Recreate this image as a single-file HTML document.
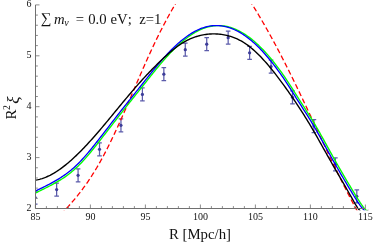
<!DOCTYPE html>
<html><head><meta charset="utf-8"><style>
html,body{margin:0;padding:0;background:#fff;}
svg{display:block;font-family:"Liberation Serif",serif;-webkit-font-smoothing:antialiased;will-change:transform;}
</style></head><body>
<svg width="374" height="246" viewBox="0 0 374 246">
<rect width="374" height="246" fill="#fff"/>
<defs><clipPath id="c"><rect x="35.5" y="4.0" width="332.90" height="206.30"/></clipPath></defs>
<g clip-path="url(#c)">
<path d="M35.20,191.00V204.00M32.90,191.00h4.6M32.90,204.00h4.6" stroke="#5c5cab" stroke-width="1.25" fill="none"/><circle cx="35.20" cy="197.50" r="1.6" fill="#3d3d99"/>
<path d="M56.64,183.10V196.10M54.34,183.10h4.6M54.34,196.10h4.6" stroke="#5c5cab" stroke-width="1.25" fill="none"/><circle cx="56.64" cy="189.60" r="1.6" fill="#3d3d99"/>
<path d="M78.08,168.80V181.80M75.78,168.80h4.6M75.78,181.80h4.6" stroke="#5c5cab" stroke-width="1.25" fill="none"/><circle cx="78.08" cy="175.30" r="1.6" fill="#3d3d99"/>
<path d="M99.52,142.80V155.80M97.22,142.80h4.6M97.22,155.80h4.6" stroke="#5c5cab" stroke-width="1.25" fill="none"/><circle cx="99.52" cy="149.30" r="1.6" fill="#3d3d99"/>
<path d="M120.96,118.80V131.80M118.66,118.80h4.6M118.66,131.80h4.6" stroke="#5c5cab" stroke-width="1.25" fill="none"/><circle cx="120.96" cy="125.30" r="1.6" fill="#3d3d99"/>
<path d="M142.40,87.90V100.90M140.10,87.90h4.6M140.10,100.90h4.6" stroke="#5c5cab" stroke-width="1.25" fill="none"/><circle cx="142.40" cy="94.40" r="1.6" fill="#3d3d99"/>
<path d="M163.84,67.70V80.70M161.54,67.70h4.6M161.54,80.70h4.6" stroke="#5c5cab" stroke-width="1.25" fill="none"/><circle cx="163.84" cy="74.20" r="1.6" fill="#3d3d99"/>
<path d="M185.28,43.20V56.20M182.98,43.20h4.6M182.98,56.20h4.6" stroke="#5c5cab" stroke-width="1.25" fill="none"/><circle cx="185.28" cy="49.70" r="1.6" fill="#3d3d99"/>
<path d="M206.72,37.70V50.70M204.42,37.70h4.6M204.42,50.70h4.6" stroke="#5c5cab" stroke-width="1.25" fill="none"/><circle cx="206.72" cy="44.20" r="1.6" fill="#3d3d99"/>
<path d="M228.16,31.20V44.20M225.86,31.20h4.6M225.86,44.20h4.6" stroke="#5c5cab" stroke-width="1.25" fill="none"/><circle cx="228.16" cy="37.70" r="1.6" fill="#3d3d99"/>
<path d="M249.60,46.30V59.30M247.30,46.30h4.6M247.30,59.30h4.6" stroke="#5c5cab" stroke-width="1.25" fill="none"/><circle cx="249.60" cy="52.80" r="1.6" fill="#3d3d99"/>
<path d="M271.04,60.00V73.00M268.74,60.00h4.6M268.74,73.00h4.6" stroke="#5c5cab" stroke-width="1.25" fill="none"/><circle cx="271.04" cy="66.50" r="1.6" fill="#3d3d99"/>
<path d="M292.48,90.80V103.80M290.18,90.80h4.6M290.18,103.80h4.6" stroke="#5c5cab" stroke-width="1.25" fill="none"/><circle cx="292.48" cy="97.30" r="1.6" fill="#3d3d99"/>
<path d="M313.92,119.50V132.50M311.62,119.50h4.6M311.62,132.50h4.6" stroke="#5c5cab" stroke-width="1.25" fill="none"/><circle cx="313.92" cy="126.00" r="1.6" fill="#3d3d99"/>
<path d="M335.36,157.80V170.80M333.06,157.80h4.6M333.06,170.80h4.6" stroke="#5c5cab" stroke-width="1.25" fill="none"/><circle cx="335.36" cy="164.30" r="1.6" fill="#3d3d99"/>
<path d="M356.80,189.80V202.80M354.50,189.80h4.6M354.50,202.80h4.6" stroke="#5c5cab" stroke-width="1.25" fill="none"/><circle cx="356.80" cy="196.30" r="1.6" fill="#3d3d99"/>

<path d="M177.78,0.00 L177.12,1.08 L176.47,2.16 L175.83,3.24 L175.19,4.32 L174.55,5.40 L173.92,6.48 L173.29,7.56 L172.67,8.64 L172.05,9.72 L171.43,10.80 L170.82,11.88 L170.21,12.96 L169.61,14.05 L169.01,15.13 L168.41,16.21 L167.82,17.29 L167.23,18.37 L166.65,19.45 L166.07,20.53 L165.49,21.61 L164.92,22.69 L164.35,23.77 L163.78,24.85 L163.22,25.93 L162.66,27.01 L162.10,28.09 L161.55,29.17 L161.00,30.25 L160.45,31.33 L159.90,32.41 L159.36,33.49 L158.82,34.57 L158.29,35.65 L157.76,36.73 L157.23,37.81 L156.70,38.89 L156.17,39.97 L155.65,41.06 L155.13,42.14 L154.61,43.22 L154.10,44.30 L153.59,45.38 L153.08,46.46 L152.57,47.54 L152.06,48.62 L151.56,49.70 L151.06,50.78 L150.56,51.86 L150.06,52.94 L149.57,54.02 L149.07,55.10 L148.58,56.18 L148.09,57.26 L147.60,58.34 L147.12,59.42 L146.63,60.50 L146.15,61.58 L145.67,62.66 L145.19,63.74 L144.71,64.82 L144.23,65.90 L143.75,66.98 L143.28,68.07 L142.80,69.15 L142.33,70.23 L141.86,71.31 L141.38,72.39 L140.91,73.47 L140.44,74.55 L139.98,75.63 L139.51,76.71 L139.04,77.79 L138.57,78.87 L138.11,79.95 L137.64,81.03 L137.18,82.11 L136.71,83.19 L136.25,84.27 L135.78,85.35 L135.32,86.43 L134.86,87.51 L134.39,88.59 L133.93,89.67 L133.47,90.75 L133.00,91.83 L132.54,92.91 L132.08,93.99 L131.61,95.08 L131.15,96.16 L130.68,97.24 L130.22,98.32 L129.75,99.40 L129.29,100.48 L128.82,101.56 L128.36,102.64 L127.89,103.72 L127.42,104.80 L126.95,105.88 L126.48,106.96 L126.01,108.04 L125.54,109.12 L125.07,110.20 L124.59,111.28 L124.12,112.36 L123.64,113.44 L123.17,114.52 L122.69,115.60 L122.21,116.68 L121.73,117.76 L121.25,118.84 L120.76,119.92 L120.28,121.01 L119.79,122.09 L119.30,123.17 L118.81,124.25 L118.32,125.33 L117.83,126.41 L117.33,127.49 L116.84,128.57 L116.34,129.65 L115.84,130.73 L115.33,131.81 L114.83,132.89 L114.32,133.97 L113.81,135.05 L113.30,136.13 L112.78,137.21 L112.26,138.29 L111.74,139.37 L111.22,140.45 L110.70,141.53 L110.17,142.61 L109.64,143.69 L109.11,144.77 L108.57,145.85 L108.03,146.93 L107.49,148.02 L106.94,149.10 L106.39,150.18 L105.83,151.26 L105.27,152.34 L104.71,153.42 L104.14,154.50 L103.57,155.58 L102.99,156.66 L102.40,157.74 L101.82,158.82 L101.22,159.90 L100.62,160.98 L100.02,162.06 L99.41,163.14 L98.79,164.22 L98.17,165.30 L97.54,166.38 L96.90,167.46 L96.26,168.54 L95.61,169.62 L94.96,170.70 L94.29,171.78 L93.62,172.86 L92.94,173.94 L92.26,175.03 L91.57,176.11 L90.87,177.19 L90.16,178.27 L89.44,179.35 L88.72,180.43 L87.98,181.51 L87.24,182.59 L86.49,183.67 L85.73,184.75 L84.96,185.83 L84.18,186.91 L83.39,187.99 L82.59,189.07 L81.78,190.15 L80.97,191.23 L80.14,192.31 L79.30,193.39 L78.45,194.47 L77.59,195.55 L76.72,196.63 L75.84,197.71 L74.95,198.79 L74.05,199.87 L73.13,200.95 L72.21,202.04 L71.27,203.12 L70.32,204.20 L69.36,205.28 L68.39,206.36 L67.40,207.44 L66.40,208.52 L65.39,209.60 L64.37,210.68 L63.33,211.76 L62.28,212.84 L61.22,213.92 L60.14,215.00" stroke="#ff0000" stroke-width="1.3" fill="none" stroke-dasharray="5.2 2.8"/>
<path d="M249.45,0.00 L250.13,1.07 L250.80,2.15 L251.47,3.22 L252.13,4.29 L252.79,5.36 L253.46,6.44 L254.11,7.51 L254.77,8.58 L255.42,9.66 L256.07,10.73 L256.71,11.80 L257.36,12.87 L258.00,13.95 L258.64,15.02 L259.27,16.09 L259.91,17.17 L260.54,18.24 L261.17,19.31 L261.79,20.38 L262.42,21.46 L263.04,22.53 L263.66,23.60 L264.27,24.68 L264.89,25.75 L265.50,26.82 L266.11,27.89 L266.71,28.97 L267.32,30.04 L267.92,31.11 L268.52,32.19 L269.12,33.26 L269.71,34.33 L270.31,35.40 L270.90,36.48 L271.49,37.55 L272.07,38.62 L272.66,39.70 L273.24,40.77 L273.82,41.84 L274.40,42.91 L274.98,43.99 L275.56,45.06 L276.13,46.13 L276.70,47.21 L277.27,48.28 L277.84,49.35 L278.41,50.42 L278.97,51.50 L279.53,52.57 L280.09,53.64 L280.65,54.72 L281.21,55.79 L281.77,56.86 L282.32,57.93 L282.87,59.01 L283.42,60.08 L283.97,61.15 L284.52,62.23 L285.07,63.30 L285.61,64.37 L286.16,65.44 L286.70,66.52 L287.24,67.59 L287.78,68.66 L288.32,69.74 L288.86,70.81 L289.39,71.88 L289.93,72.95 L290.46,74.03 L290.99,75.10 L291.52,76.17 L292.05,77.25 L292.58,78.32 L293.11,79.39 L293.63,80.46 L294.16,81.54 L294.68,82.61 L295.21,83.68 L295.73,84.76 L296.25,85.83 L296.77,86.90 L297.29,87.97 L297.81,89.05 L298.32,90.12 L298.84,91.19 L299.36,92.27 L299.87,93.34 L300.39,94.41 L300.90,95.48 L301.41,96.56 L301.92,97.63 L302.44,98.70 L302.95,99.78 L303.46,100.85 L303.97,101.92 L304.47,102.99 L304.98,104.07 L305.49,105.14 L306.00,106.21 L306.51,107.29 L307.01,108.36 L307.52,109.43 L308.02,110.51 L308.53,111.58 L309.03,112.65 L309.54,113.72 L310.04,114.80 L310.55,115.87 L311.05,116.94 L311.56,118.02 L312.06,119.09 L312.56,120.16 L313.07,121.23 L313.57,122.31 L314.07,123.38 L314.58,124.45 L315.08,125.53 L315.58,126.60 L316.08,127.67 L316.59,128.74 L317.09,129.82 L317.59,130.89 L318.10,131.96 L318.60,133.04 L319.10,134.11 L319.61,135.18 L320.11,136.25 L320.61,137.33 L321.12,138.40 L321.62,139.47 L322.13,140.55 L322.63,141.62 L323.14,142.69 L323.65,143.76 L324.15,144.84 L324.66,145.91 L325.17,146.98 L325.67,148.06 L326.18,149.13 L326.69,150.20 L327.20,151.27 L327.71,152.35 L328.22,153.42 L328.73,154.49 L329.24,155.57 L329.76,156.64 L330.27,157.71 L330.78,158.78 L331.30,159.86 L331.82,160.93 L332.33,162.00 L332.85,163.08 L333.37,164.15 L333.89,165.22 L334.41,166.29 L334.93,167.37 L335.45,168.44 L335.97,169.51 L336.50,170.59 L337.02,171.66 L337.55,172.73 L338.07,173.80 L338.60,174.88 L339.13,175.95 L339.66,177.02 L340.19,178.10 L340.72,179.17 L341.26,180.24 L341.79,181.31 L342.33,182.39 L342.87,183.46 L343.41,184.53 L343.95,185.61 L344.49,186.68 L345.03,187.75 L345.58,188.82 L346.12,189.90 L346.67,190.97 L347.22,192.04 L347.77,193.12 L348.32,194.19 L348.88,195.26 L349.43,196.33 L349.99,197.41 L350.55,198.48 L351.11,199.55 L351.67,200.63 L352.24,201.70 L352.80,202.77 L353.37,203.84 L353.94,204.92 L354.51,205.99 L355.08,207.06 L355.66,208.14 L356.24,209.21 L356.81,210.28 L357.40,211.35 L357.98,212.43 L358.56,213.50" stroke="#ff0000" stroke-width="1.3" fill="none" stroke-dasharray="5.2 2.8"/>
<path d="M33.00,194.23 L34.31,193.58 L35.62,192.93 L36.93,192.28 L38.24,191.64 L39.54,190.99 L40.85,190.35 L42.16,189.71 L43.47,189.07 L44.78,188.42 L46.09,187.77 L47.40,187.11 L48.71,186.45 L50.02,185.77 L51.32,185.08 L52.63,184.39 L53.94,183.68 L55.25,182.95 L56.56,182.21 L57.87,181.44 L59.18,180.66 L60.49,179.86 L61.80,179.04 L63.10,178.19 L64.41,177.32 L65.72,176.41 L67.03,175.45 L68.34,174.47 L69.65,173.46 L70.96,172.41 L72.27,171.33 L73.58,170.21 L74.88,169.06 L76.19,167.87 L77.50,166.64 L78.81,165.37 L80.12,164.05 L81.43,162.70 L82.74,161.30 L84.05,159.87 L85.36,158.41 L86.66,156.91 L87.97,155.38 L89.28,153.82 L90.59,152.24 L91.90,150.64 L93.21,149.01 L94.52,147.36 L95.83,145.72 L97.14,144.08 L98.44,142.42 L99.75,140.75 L101.06,139.08 L102.37,137.40 L103.68,135.71 L104.99,134.02 L106.30,132.33 L107.61,130.63 L108.92,128.94 L110.22,127.25 L111.53,125.55 L112.84,123.86 L114.15,122.17 L115.46,120.48 L116.77,118.79 L118.08,117.10 L119.39,115.42 L120.69,113.75 L122.00,112.08 L123.31,110.41 L124.62,108.75 L125.93,107.10 L127.24,105.44 L128.55,103.80 L129.86,102.15 L131.17,100.51 L132.47,98.86 L133.78,97.22 L135.09,95.58 L136.40,93.95 L137.71,92.31 L139.02,90.67 L140.33,89.03 L141.64,87.39 L142.95,85.75 L144.25,84.11 L145.56,82.47 L146.87,80.82 L148.18,79.17 L149.49,77.53 L150.80,75.89 L152.11,74.25 L153.42,72.63 L154.73,71.01 L156.03,69.40 L157.34,67.80 L158.65,66.22 L159.96,64.66 L161.27,63.11 L162.58,61.58 L163.89,60.08 L165.20,58.59 L166.51,57.13 L167.81,55.70 L169.12,54.28 L170.43,52.90 L171.74,51.53 L173.05,50.20 L174.36,48.89 L175.67,47.61 L176.98,46.36 L178.29,45.14 L179.59,43.95 L180.90,42.79 L182.21,41.67 L183.52,40.57 L184.83,39.51 L186.14,38.48 L187.45,37.48 L188.76,36.52 L190.07,35.60 L191.37,34.71 L192.68,33.86 L193.99,33.05 L195.30,32.28 L196.61,31.54 L197.92,30.85 L199.23,30.20 L200.54,29.58 L201.85,29.02 L203.15,28.49 L204.46,28.01 L205.77,27.57 L207.08,27.17 L208.39,26.82 L209.70,26.52 L211.01,26.25 L212.32,26.04 L213.63,25.86 L214.93,25.73 L216.24,25.64 L217.55,25.60 L218.86,25.60 L220.17,25.64 L221.48,25.72 L222.79,25.85 L224.10,26.02 L225.41,26.23 L226.71,26.49 L228.02,26.78 L229.33,27.12 L230.64,27.50 L231.95,27.93 L233.26,28.39 L234.57,28.89 L235.88,29.44 L237.19,30.03 L238.49,30.66 L239.80,31.32 L241.11,32.03 L242.42,32.78 L243.73,33.57 L245.04,34.40 L246.35,35.27 L247.66,36.18 L248.97,37.13 L250.27,38.12 L251.58,39.15 L252.89,40.22 L254.20,41.32 L255.51,42.46 L256.82,43.64 L258.13,44.86 L259.44,46.12 L260.75,47.41 L262.05,48.73 L263.36,50.09 L264.67,51.49 L265.98,52.92 L267.29,54.39 L268.60,55.89 L269.91,57.43 L271.22,59.00 L272.53,60.60 L273.83,62.23 L275.14,63.90 L276.45,65.60 L277.76,67.33 L279.07,69.09 L280.38,70.89 L281.69,72.71 L283.00,74.57 L284.31,76.45 L285.61,78.37 L286.92,80.31 L288.23,82.29 L289.54,84.29 L290.85,86.32 L292.16,88.37 L293.47,90.43 L294.78,92.51 L296.08,94.59 L297.39,96.67 L298.70,98.75 L300.01,100.82 L301.32,102.88 L302.63,104.92 L303.94,106.95 L305.25,108.98 L306.56,111.01 L307.86,113.05 L309.17,115.10 L310.48,117.18 L311.79,119.29 L313.10,121.43 L314.41,123.61 L315.72,125.83 L317.03,128.08 L318.34,130.36 L319.64,132.67 L320.95,135.00 L322.26,137.34 L323.57,139.70 L324.88,142.07 L326.19,144.45 L327.50,146.82 L328.81,149.20 L330.12,151.57 L331.42,153.92 L332.73,156.27 L334.04,158.60 L335.35,160.92 L336.66,163.23 L337.97,165.53 L339.28,167.81 L340.59,170.09 L341.90,172.35 L343.20,174.60 L344.51,176.84 L345.82,179.07 L347.13,181.29 L348.44,183.50 L349.75,185.69 L351.06,187.88 L352.37,190.06 L353.68,192.22 L354.98,194.38 L356.29,196.52 L357.60,198.64 L358.91,200.70 L360.22,202.70 L361.53,204.60 L362.84,206.40 L364.15,208.07 L365.46,209.58 L366.76,210.93 L368.07,212.07 L369.38,212.86 L370.69,213.09 L372.00,212.58" stroke="#00ff00" stroke-width="1.35" fill="none"/>
<path d="M33.00,192.24 L34.31,191.59 L35.62,190.96 L36.93,190.32 L38.24,189.69 L39.54,189.06 L40.85,188.42 L42.16,187.79 L43.47,187.15 L44.78,186.50 L46.09,185.85 L47.40,185.19 L48.71,184.51 L50.02,183.83 L51.32,183.14 L52.63,182.42 L53.94,181.70 L55.25,180.95 L56.56,180.19 L57.87,179.41 L59.18,178.61 L60.49,177.78 L61.80,176.93 L63.10,176.05 L64.41,175.14 L65.72,174.21 L67.03,173.25 L68.34,172.25 L69.65,171.22 L70.96,170.16 L72.27,169.06 L73.58,167.92 L74.88,166.74 L76.19,165.52 L77.50,164.26 L78.81,162.96 L80.12,161.62 L81.43,160.24 L82.74,158.83 L84.05,157.38 L85.36,155.90 L86.66,154.39 L87.97,152.86 L89.28,151.30 L90.59,149.72 L91.90,148.11 L93.21,146.49 L94.52,144.86 L95.83,143.20 L97.14,141.54 L98.44,139.87 L99.75,138.19 L101.06,136.51 L102.37,134.82 L103.68,133.13 L104.99,131.43 L106.30,129.74 L107.61,128.05 L108.92,126.35 L110.22,124.66 L111.53,122.96 L112.84,121.27 L114.15,119.58 L115.46,117.90 L116.77,116.22 L118.08,114.54 L119.39,112.87 L120.69,111.20 L122.00,109.54 L123.31,107.88 L124.62,106.22 L125.93,104.57 L127.24,102.93 L128.55,101.28 L129.86,99.64 L131.17,98.00 L132.47,96.36 L133.78,94.72 L135.09,93.08 L136.40,91.44 L137.71,89.81 L139.02,88.17 L140.33,86.53 L141.64,84.89 L142.95,83.24 L144.25,81.60 L145.56,79.95 L146.87,78.31 L148.18,76.66 L149.49,75.03 L150.80,73.39 L152.11,71.77 L153.42,70.16 L154.73,68.56 L156.03,66.97 L157.34,65.39 L158.65,63.84 L159.96,62.30 L161.27,60.78 L162.58,59.29 L163.89,57.82 L165.20,56.37 L166.51,54.95 L167.81,53.55 L169.12,52.17 L170.43,50.83 L171.74,49.51 L173.05,48.21 L174.36,46.95 L175.67,45.72 L176.98,44.51 L178.29,43.34 L179.59,42.19 L180.90,41.08 L182.21,40.00 L183.52,38.96 L184.83,37.95 L186.14,36.97 L187.45,36.03 L188.76,35.13 L190.07,34.26 L191.37,33.43 L192.68,32.64 L193.99,31.89 L195.30,31.17 L196.61,30.50 L197.92,29.87 L199.23,29.28 L200.54,28.73 L201.85,28.23 L203.15,27.77 L204.46,27.35 L205.77,26.98 L207.08,26.65 L208.39,26.37 L209.70,26.13 L211.01,25.94 L212.32,25.79 L213.63,25.68 L214.93,25.61 L216.24,25.59 L217.55,25.61 L218.86,25.68 L220.17,25.79 L221.48,25.94 L222.79,26.13 L224.10,26.36 L225.41,26.64 L226.71,26.96 L228.02,27.32 L229.33,27.72 L230.64,28.17 L231.95,28.65 L233.26,29.18 L234.57,29.75 L235.88,30.35 L237.19,31.00 L238.49,31.69 L239.80,32.42 L241.11,33.20 L242.42,34.01 L243.73,34.86 L245.04,35.75 L246.35,36.68 L247.66,37.65 L248.97,38.66 L250.27,39.71 L251.58,40.80 L252.89,41.92 L254.20,43.08 L255.51,44.28 L256.82,45.52 L258.13,46.79 L259.44,48.10 L260.75,49.45 L262.05,50.83 L263.36,52.24 L264.67,53.69 L265.98,55.18 L267.29,56.70 L268.60,58.25 L269.91,59.84 L271.22,61.46 L272.53,63.11 L273.83,64.79 L275.14,66.51 L276.45,68.26 L277.76,70.04 L279.07,71.85 L280.38,73.69 L281.69,75.56 L283.00,77.46 L284.31,79.39 L285.61,81.35 L286.92,83.34 L288.23,85.36 L289.54,87.40 L290.85,89.45 L292.16,91.53 L293.47,93.61 L294.78,95.69 L296.08,97.77 L297.39,99.85 L298.70,101.91 L300.01,103.96 L301.32,105.99 L302.63,108.02 L303.94,110.05 L305.25,112.08 L306.56,114.13 L307.86,116.20 L309.17,118.29 L310.48,120.41 L311.79,122.58 L313.10,124.78 L314.41,127.02 L315.72,129.28 L317.03,131.58 L318.34,133.90 L319.64,136.24 L320.95,138.59 L322.26,140.95 L323.57,143.33 L324.88,145.70 L326.19,148.08 L327.50,150.45 L328.81,152.81 L330.12,155.16 L331.42,157.50 L332.73,159.83 L334.04,162.14 L335.35,164.45 L336.66,166.74 L337.97,169.02 L339.28,171.28 L340.59,173.54 L341.90,175.79 L343.20,178.02 L344.51,180.24 L345.82,182.46 L347.13,184.66 L348.44,186.85 L349.75,189.03 L351.06,191.20 L352.37,193.36 L353.68,195.51 L354.98,197.65 L356.29,199.74 L357.60,201.77 L358.91,203.72 L360.22,205.57 L361.53,207.30 L362.84,208.89 L364.15,210.32 L365.46,211.56 L366.76,212.54 L368.07,213.06 L369.38,212.93 L370.69,211.95 L372.00,209.92" stroke="#0000ff" stroke-width="1.35" fill="none"/>
<path d="M33.00,180.48 L34.31,180.34 L35.62,180.15 L36.93,179.92 L38.24,179.64 L39.54,179.32 L40.85,178.95 L42.16,178.55 L43.47,178.10 L44.78,177.61 L46.09,177.08 L47.40,176.51 L48.71,175.91 L50.02,175.27 L51.32,174.59 L52.63,173.87 L53.94,173.12 L55.25,172.33 L56.56,171.51 L57.87,170.66 L59.18,169.77 L60.49,168.85 L61.80,167.90 L63.10,166.92 L64.41,165.91 L65.72,164.87 L67.03,163.81 L68.34,162.71 L69.65,161.59 L70.96,160.45 L72.27,159.28 L73.58,158.08 L74.88,156.86 L76.19,155.62 L77.50,154.35 L78.81,153.07 L80.12,151.76 L81.43,150.43 L82.74,149.09 L84.05,147.72 L85.36,146.34 L86.66,144.94 L87.97,143.53 L89.28,142.09 L90.59,140.65 L91.90,139.19 L93.21,137.71 L94.52,136.23 L95.83,134.73 L97.14,133.22 L98.44,131.70 L99.75,130.17 L101.06,128.63 L102.37,127.08 L103.68,125.53 L104.99,123.97 L106.30,122.40 L107.61,120.83 L108.92,119.25 L110.22,117.67 L111.53,116.09 L112.84,114.50 L114.15,112.91 L115.46,111.32 L116.77,109.73 L118.08,108.15 L119.39,106.56 L120.69,104.97 L122.00,103.39 L123.31,101.81 L124.62,100.24 L125.93,98.67 L127.24,97.11 L128.55,95.55 L129.86,94.00 L131.17,92.45 L132.47,90.92 L133.78,89.39 L135.09,87.88 L136.40,86.37 L137.71,84.88 L139.02,83.40 L140.33,81.93 L141.64,80.47 L142.95,79.03 L144.25,77.60 L145.56,76.19 L146.87,74.79 L148.18,73.40 L149.49,72.03 L150.80,70.67 L152.11,69.33 L153.42,68.00 L154.73,66.68 L156.03,65.38 L157.34,64.09 L158.65,62.81 L159.96,61.55 L161.27,60.30 L162.58,59.06 L163.89,57.83 L165.20,56.62 L166.51,55.43 L167.81,54.26 L169.12,53.10 L170.43,51.98 L171.74,50.87 L173.05,49.79 L174.36,48.74 L175.67,47.72 L176.98,46.73 L178.29,45.78 L179.59,44.86 L180.90,43.97 L182.21,43.12 L183.52,42.32 L184.83,41.55 L186.14,40.83 L187.45,40.15 L188.76,39.51 L190.07,38.91 L191.37,38.35 L192.68,37.83 L193.99,37.34 L195.30,36.90 L196.61,36.48 L197.92,36.10 L199.23,35.75 L200.54,35.44 L201.85,35.15 L203.15,34.90 L204.46,34.67 L205.77,34.47 L207.08,34.30 L208.39,34.16 L209.70,34.05 L211.01,33.97 L212.32,33.92 L213.63,33.90 L214.93,33.90 L216.24,33.94 L217.55,34.01 L218.86,34.11 L220.17,34.25 L221.48,34.41 L222.79,34.60 L224.10,34.83 L225.41,35.09 L226.71,35.38 L228.02,35.71 L229.33,36.06 L230.64,36.45 L231.95,36.88 L233.26,37.35 L234.57,37.85 L235.88,38.39 L237.19,38.97 L238.49,39.59 L239.80,40.25 L241.11,40.96 L242.42,41.71 L243.73,42.51 L245.04,43.35 L246.35,44.24 L247.66,45.18 L248.97,46.16 L250.27,47.19 L251.58,48.26 L252.89,49.37 L254.20,50.52 L255.51,51.71 L256.82,52.95 L258.13,54.22 L259.44,55.52 L260.75,56.86 L262.05,58.24 L263.36,59.65 L264.67,61.10 L265.98,62.57 L267.29,64.08 L268.60,65.61 L269.91,67.18 L271.22,68.77 L272.53,70.38 L273.83,72.03 L275.14,73.69 L276.45,75.38 L277.76,77.09 L279.07,78.83 L280.38,80.58 L281.69,82.35 L283.00,84.14 L284.31,85.95 L285.61,87.77 L286.92,89.61 L288.23,91.46 L289.54,93.32 L290.85,95.20 L292.16,97.09 L293.47,99.01 L294.78,100.93 L296.08,102.88 L297.39,104.84 L298.70,106.83 L300.01,108.83 L301.32,110.86 L302.63,112.90 L303.94,114.97 L305.25,117.06 L306.56,119.18 L307.86,121.31 L309.17,123.48 L310.48,125.67 L311.79,127.88 L313.10,130.12 L314.41,132.38 L315.72,134.67 L317.03,136.96 L318.34,139.28 L319.64,141.60 L320.95,143.93 L322.26,146.26 L323.57,148.60 L324.88,150.94 L326.19,153.27 L327.50,155.60 L328.81,157.92 L330.12,160.23 L331.42,162.52 L332.73,164.81 L334.04,167.09 L335.35,169.36 L336.66,171.62 L337.97,173.89 L339.28,176.14 L340.59,178.40 L341.90,180.66 L343.20,182.92 L344.51,185.19 L345.82,187.46 L347.13,189.73 L348.44,192.01 L349.75,194.31 L351.06,196.61 L352.37,198.92 L353.68,201.25 L354.98,203.55 L356.29,205.75 L357.60,207.79 L358.91,209.58 L360.22,211.05 L361.53,212.14 L362.84,212.76 L364.15,212.84 L365.46,212.32 L366.76,211.37 L368.07,210.54 L369.38,210.41 L370.69,211.55 L372.00,214.53" stroke="#000" stroke-width="1.4" fill="none"/>
</g>
<path d="M35.5,4.90V208.5H365.40" stroke="#707070" stroke-width="1" fill="none"/><path d="M35.40,208.5v-4M46.40,208.5v-2.4M57.40,208.5v-2.4M68.40,208.5v-2.4M79.40,208.5v-2.4M90.40,208.5v-4M101.40,208.5v-2.4M112.40,208.5v-2.4M123.40,208.5v-2.4M134.40,208.5v-2.4M145.40,208.5v-4M156.40,208.5v-2.4M167.40,208.5v-2.4M178.40,208.5v-2.4M189.40,208.5v-2.4M200.40,208.5v-4M211.40,208.5v-2.4M222.40,208.5v-2.4M233.40,208.5v-2.4M244.40,208.5v-2.4M255.40,208.5v-4M266.40,208.5v-2.4M277.40,208.5v-2.4M288.40,208.5v-2.4M299.40,208.5v-2.4M310.40,208.5v-4M321.40,208.5v-2.4M332.40,208.5v-2.4M343.40,208.5v-2.4M354.40,208.5v-2.4M365.40,208.5v-4M35.5,208.50h4M35.5,198.32h2.4M35.5,188.14h2.4M35.5,177.96h2.4M35.5,167.78h2.4M35.5,157.60h4M35.5,147.42h2.4M35.5,137.24h2.4M35.5,127.06h2.4M35.5,116.88h2.4M35.5,106.70h4M35.5,96.52h2.4M35.5,86.34h2.4M35.5,76.16h2.4M35.5,65.98h2.4M35.5,55.80h4M35.5,45.62h2.4M35.5,35.44h2.4M35.5,25.26h2.4M35.5,15.08h2.4M35.5,4.90h4" stroke="#707070" stroke-width="0.8" fill="none"/>
<g fill="#111" style="filter:grayscale(1)"><text x="35.40" y="220" text-anchor="middle" font-size="10">85</text><text x="90.40" y="220" text-anchor="middle" font-size="10">90</text><text x="145.40" y="220" text-anchor="middle" font-size="10">95</text><text x="200.40" y="220" text-anchor="middle" font-size="10">100</text><text x="255.40" y="220" text-anchor="middle" font-size="10">105</text><text x="310.40" y="220" text-anchor="middle" font-size="10">110</text><text x="365.40" y="220" text-anchor="middle" font-size="10">115</text><text x="31.6" y="210.80" text-anchor="end" font-size="10">2</text><text x="31.6" y="159.90" text-anchor="end" font-size="10">3</text><text x="31.6" y="109.00" text-anchor="end" font-size="10">4</text><text x="31.6" y="58.10" text-anchor="end" font-size="10">5</text><text x="31.6" y="7.20" text-anchor="end" font-size="10">6</text>
<text y="24" font-size="14.7"><tspan x="40.4" font-size="15" y="23.2">∑</tspan><tspan x="54" y="24" font-style="italic">m</tspan><tspan x="64.3" y="26" font-size="10" font-style="italic">ν</tspan><tspan x="75.8" y="24">=</tspan><tspan x="88.2">0.0</tspan><tspan x="110.6">eV</tspan><tspan dx="1.2">;</tspan><tspan x="139.3">z=1</tspan></text>
<text x="200" y="239.2" font-size="14.8" text-anchor="middle">R [Mpc/h]</text>
<text transform="translate(16.3,119.5) rotate(-90)" font-size="15"><tspan>R</tspan><tspan font-size="9.7" dy="-6.5" dx="-0.4">2</tspan><tspan dy="9" dx="1.2" font-style="italic" font-size="17">ξ</tspan></text>
</g>
</svg>
</body></html>
